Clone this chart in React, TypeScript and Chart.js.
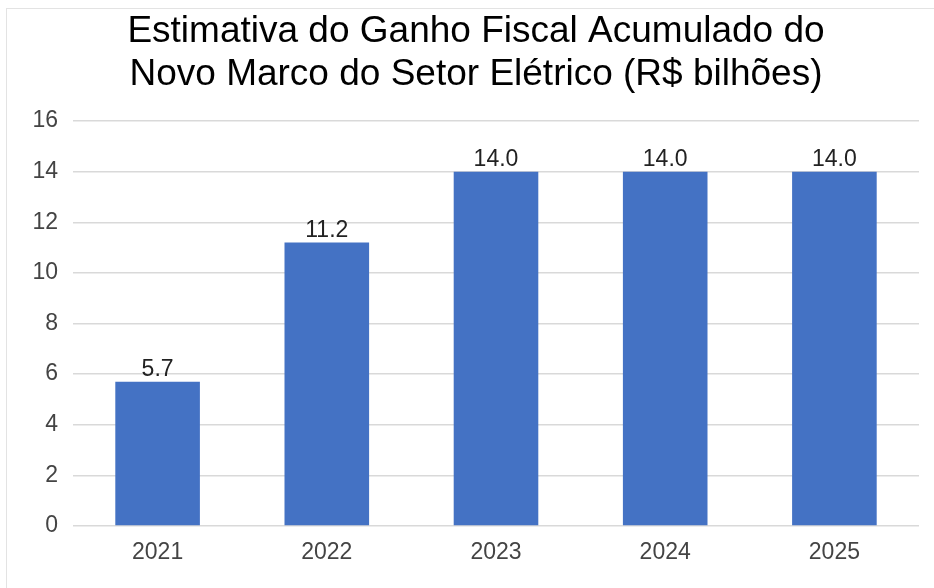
import React, { useEffect, useRef } from "react";
import { Chart, registerables } from "chart.js";

Chart.register(...registerables);

const titleLines = ["Estimativa do Ganho Fiscal Acumulado do", "Novo Marco do Setor Elétrico (R$ bilhões)"];
const categories = ["2021", "2022", "2023", "2024", "2025"];
const values = [5.7, 11.2, 14.0, 14.0, 14.0];
const yMin = 0;
const yMax = 16;
const yStep = 2;

const FONT = "'Liberation Sans', Arial, sans-serif";

const valueLabels = {
  id: "valueLabels",
  afterDatasetsDraw(chart: any) {
    const ctx = chart.ctx;
    const meta = chart.getDatasetMeta(0);
    ctx.save();
    ctx.font = `23px ${FONT}`;
    ctx.fillStyle = "#222222";
    ctx.textAlign = "center";
    ctx.textBaseline = "alphabetic";
    meta.data.forEach((bar: any, i: number) => {
      const v = chart.data.datasets[0].data[i] as number;
      ctx.fillText(v.toFixed(1), bar.x, bar.y - 6);
    });
    ctx.restore();
  },
};

export default function App() {
  const ref = useRef<HTMLCanvasElement | null>(null);
  useEffect(() => {
    if (!ref.current) return;
    const chart = new Chart(ref.current, {
      type: "bar",
      data: {
        labels: categories,
        datasets: [
          {
            data: values,
            backgroundColor: "#4472c4",
            borderWidth: 0,
            categoryPercentage: 1,
            barPercentage: 0.5,
          },
        ],
      },
      options: {
        responsive: false,
        animation: false,
        layout: { padding: { left: 33, right: 15, top: 0, bottom: 0 } },
        plugins: {
          legend: { display: false },
          tooltip: { enabled: false },
          title: {
            display: true,
            text: titleLines,
            color: "#000000",
            font: { family: FONT, size: 37, weight: "normal", lineHeight: 43 / 37 },
            padding: { top: 10.5, bottom: 24.5 },
          },
        },
        scales: {
          x: {
            grid: { display: false, drawTicks: false },
            border: { display: false },
            ticks: { color: "#444444", font: { family: FONT, size: 23 }, padding: 13 },
            afterFit: (s: any) => {
              s.height = 62;
            },
          },
          y: {
            min: yMin,
            max: yMax,
            grid: { color: "#d9d9d9", lineWidth: 1.5, drawTicks: false },
            border: { display: false },
            ticks: { stepSize: yStep, color: "#444444", font: { family: FONT, size: 23 }, padding: 15 },
            afterFit: (s: any) => {
              s.width = 40;
            },
          },
        },
      },
      plugins: [valueLabels],
    });
    return () => chart.destroy();
  }, []);
  return (
    <div style={{ position: "fixed", left: 0, top: 0, width: 934, height: 588, background: "#fff", overflow: "hidden" }}>
      <div style={{ position: "absolute", left: 6, top: 8, width: 1, height: 600, background: "#e3e3e3" }} />
      <div style={{ position: "absolute", left: 6, top: 8, width: 1000, height: 1, background: "#e3e3e3" }} />
      <canvas ref={ref} width={934} height={588} style={{ position: "absolute", left: 0, top: 0, display: "block" }} />
    </div>
  );
}
